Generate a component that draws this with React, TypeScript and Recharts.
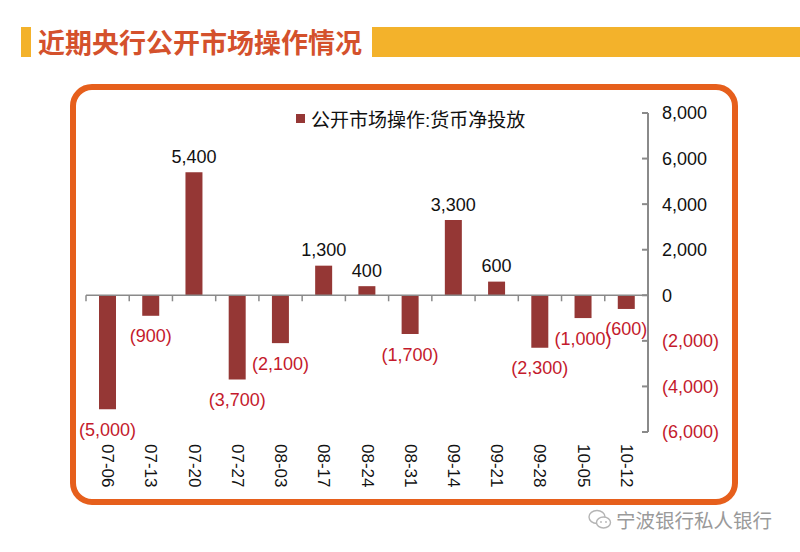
import React from 'react'
import { BarChart, Bar, XAxis, YAxis, ReferenceLine, LabelList, Legend } from 'recharts'

const weeks = ['07-06', '07-13', '07-20', '07-27', '08-03', '08-17', '08-24', '08-31', '09-14', '09-21', '09-28', '10-05', '10-12']
const netInjection = [-5000, -900, 5400, -3700, -2100, 1300, 400, -1700, 3300, 600, -2300, -1000, -600]
const yTicks = [-6000, -4000, -2000, 0, 2000, 4000, 6000, 8000]
const seriesName = '公开市场操作:货币净投放'

const data = weeks.map((w, i) => ({ week: w, value: netInjection[i] }))

// layout
const W = 800
const H = 552
const PLOT_LEFT = 86
const PLOT_RIGHT = 648
const PLOT_TOP = 113
const PLOT_BOTTOM = 432
const X_AXIS_H = 70
const Y_AXIS_W = 80
const Y_MIN = -6000
const Y_MAX = 8000

const BAR = '#953735'
const RED = '#c41a2c'
const AXIS = '#8a8a8a'
const FONT = '"Liberation Sans", Arial, "Noto Sans CJK SC", sans-serif'

const band = (PLOT_RIGHT - PLOT_LEFT) / weeks.length
const zeroY = PLOT_TOP + ((PLOT_BOTTOM - PLOT_TOP) * Y_MAX) / (Y_MAX - Y_MIN)

const fmt = (v: number) => {
  const s = Math.abs(v).toLocaleString('en-US')
  return v < 0 ? `(${s})` : s
}

function YTick(props: any) {
  const { x, y, payload } = props
  const v = payload.value as number
  return (
    <g>
      <line x1={x - 6} x2={x} y1={y} y2={y} stroke={AXIS} strokeWidth={2} />
      <text x={x + 14} y={y} dy="0.36em" textAnchor="start" fontSize={18} fontFamily={FONT} fill={v < 0 ? RED : '#111'}>
        {fmt(v)}
      </text>
    </g>
  )
}

function XTick(props: any) {
  const { x, y, payload } = props
  const ty = y + 12
  const bx = x - band / 2
  return (
    <g>
      <line x1={bx} x2={bx} y1={zeroY} y2={zeroY + 6} stroke={AXIS} strokeWidth={1.5} />
      <text
        x={x}
        y={ty}
        transform={`rotate(90 ${x} ${ty})`}
        textAnchor="start"
        dominantBaseline="central"
        fontSize={17}
        fontFamily={FONT}
        fill="#111"
      >
        {payload.value}
      </text>
    </g>
  )
}

function ValueLabel(props: any) {
  const { x, y, width, height, value } = props
  const top = Math.min(y, y + height)
  const bottom = Math.max(y, y + height)
  const cx = x + width / 2
  const neg = value < 0
  return (
    <text
      x={cx}
      y={neg ? bottom + 20 : top - 16}
      dy="0.36em"
      textAnchor="middle"
      fontSize={18}
      fontFamily={FONT}
      fill={neg ? RED : '#111'}
    >
      {fmt(value)}
    </text>
  )
}

function LegendContent() {
  return (
    <div style={{ display: 'flex', alignItems: 'center', fontFamily: FONT, fontSize: 19, color: '#111', whiteSpace: 'nowrap' }}>
      <span style={{ display: 'inline-block', width: 9, height: 9, background: BAR, marginRight: 6 }} />
      {seriesName}
    </div>
  )
}

function WeChatIcon() {
  return (
    <svg width={24} height={22} viewBox="0 0 24 22" style={{ marginRight: 4 }}>
      <ellipse cx={9} cy={8} rx={8} ry={6.5} fill="none" stroke="#b5b5b5" strokeWidth={1.4} />
      <ellipse cx={15.5} cy={13.5} rx={7} ry={5.5} fill="#fff" stroke="#b5b5b5" strokeWidth={1.4} />
      <circle cx={13} cy={13} r={0.9} fill="#b5b5b5" />
      <circle cx={18} cy={13} r={0.9} fill="#b5b5b5" />
    </svg>
  )
}

export default function App() {
  return (
    <div style={{ position: 'relative', width: W, height: H, background: '#fff', overflow: 'hidden' }}>
      <style>{'body{margin:0}'}</style>

      {/* header */}
      <div style={{ position: 'absolute', left: 21, top: 27, width: 10, height: 30, background: '#f3b22b' }} />
      <div
        style={{
          position: 'absolute',
          left: 38,
          top: 25,
          height: 34,
          lineHeight: '34px',
          fontFamily: '"Noto Sans CJK SC", sans-serif',
          fontWeight: 700,
          fontSize: 27,
          color: '#d4512c',
        }}
      >
        近期央行公开市场操作情况
      </div>
      <div style={{ position: 'absolute', left: 372, top: 27, right: 0, height: 30, background: '#f3b22b' }} />

      {/* frame */}
      <div
        style={{
          position: 'absolute',
          left: 70,
          top: 84,
          width: 668,
          height: 421,
          boxSizing: 'border-box',
          border: '6px solid #e65f1c',
          borderRadius: 22,
          background: '#fff',
        }}
      />

      <div style={{ position: 'absolute', left: 0, top: 0 }}>
        <BarChart
          width={W}
          height={H}
          data={data}
          margin={{
            top: PLOT_TOP,
            left: PLOT_LEFT,
            right: W - PLOT_RIGHT - Y_AXIS_W,
            bottom: H - PLOT_BOTTOM - X_AXIS_H,
          }}
        >
          <XAxis
            dataKey="week"
            interval={0}
            height={X_AXIS_H}
            axisLine={false}
            tickLine={false}
            tickSize={0}
            tickMargin={0}
            tick={<XTick />}
          />
          <YAxis
            orientation="right"
            width={Y_AXIS_W}
            domain={[Y_MIN, Y_MAX]}
            ticks={yTicks}
            interval={0}
            allowDataOverflow
            axisLine={{ stroke: AXIS, strokeWidth: 2 }}
            tickLine={false}
            tickSize={0}
            tickMargin={0}
            tick={<YTick />}
          />
          <ReferenceLine y={0} stroke={AXIS} strokeWidth={1.5} />
          <Legend
            verticalAlign="middle"
            layout="horizontal"
            wrapperStyle={{ top: 105, left: 296, width: 'auto' }}
            content={<LegendContent />}
          />
          <Bar dataKey="value" name={seriesName} fill={BAR} barSize={17} isAnimationActive={false}>
            <LabelList dataKey="value" content={<ValueLabel />} />
          </Bar>
        </BarChart>
      </div>

      {/* watermark */}
      <div
        style={{
          position: 'absolute',
          left: 588,
          top: 505,
          display: 'flex',
          alignItems: 'center',
          fontFamily: '"Noto Sans CJK SC", sans-serif',
          fontSize: 19.5,
          color: '#9a9a9a',
          whiteSpace: 'nowrap',
        }}
      >
        <WeChatIcon />
        宁波银行私人银行
      </div>
    </div>
  )
}
